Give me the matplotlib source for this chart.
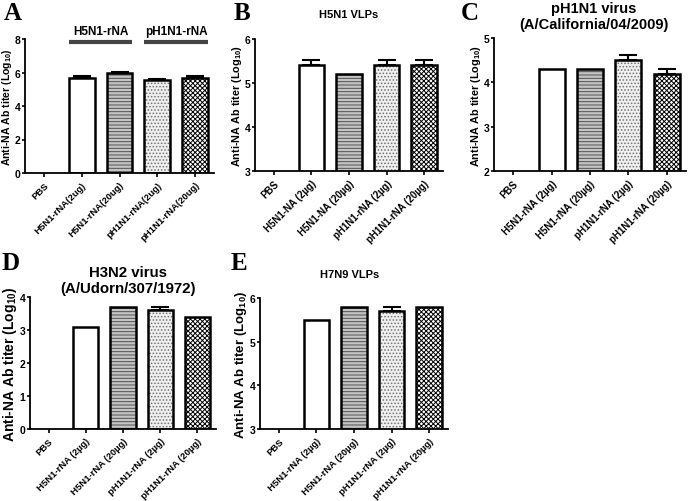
import matplotlib
matplotlib.use("Agg")
import matplotlib.pyplot as plt
import numpy as np

plt.rcParams['font.family'] = ['Liberation Sans', 'DejaVu Sans']
plt.rcParams['font.weight'] = 'bold'
plt.rcParams['mathtext.fontset'] = 'custom'
plt.rcParams['mathtext.rm'] = 'Liberation Sans:bold'
plt.rcParams['mathtext.bf'] = 'Liberation Sans:bold'
plt.rcParams['mathtext.default'] = 'bf'
plt.rcParams['hatch.linewidth'] = 0.7

# ---------------- data ----------------
labels_A = ["PBS", "H5N1-rNA(2ug)", "H5N1-rNA(20ug)", "pH1N1-rNA(2ug)", "pH1N1-rNA(20ug)"]
labels_B = ["PBS", "H5N1-NA (2µg)", "H5N1-NA (20µg)", "pH1N1-rNA (2µg)", "pH1N1-rNA (20µg)"]
labels_CDE = ["PBS", "H5N1-rNA (2µg)", "H5N1-rNA (20µg)", "pH1N1-rNA (2µg)", "pH1N1-rNA (20µg)"]

values_A = [0, 5.7, 5.95, 5.55, 5.7]
errors_A = [0, 0.08, 0.08, 0.08, 0.08]
values_B = [0, 5.4, 5.2, 5.4, 5.4]
errors_B = [0, 0.12, 0.0, 0.12, 0.12]
values_C = [0, 4.3, 4.3, 4.5, 4.18]
errors_C = [0, 0.0, 0.0, 0.12, 0.12]
values_D = [0, 3.1, 3.7, 3.6, 3.4]
errors_D = [0, 0.0, 0.0, 0.1, 0.0]
values_E = [0, 5.5, 5.8, 5.7, 5.8]
errors_E = [0, 0.0, 0.0, 0.1, 0.0]

titles = {"B": "H5N1 VLPs", "C": "pH1N1 virus\n(A/California/04/2009)",
          "D": "H3N2 virus\n(A/Udorn/307/1972)", "E": "H7N9 VLPs"}
group_labels_A = ["H5N1-rNA", "pH1N1-rNA"]

# ---------------- styling ----------------
W, H = 696, 502
fig = plt.figure(figsize=(W / 100, H / 100), dpi=100)

face = ['white', 'white', '#c4c4c4', '#f0f0f0', '#ffffff']
hatches = [None, None, '-----', '.....', 'xxxxxxx']
hcol = ['black', 'black', '#505050', '#707070', 'black']


def make_ax(l, r, t, b):
    return fig.add_axes([l / W, 1 - b / H, (r - l) / W, (b - t) / H])


def panel(ax, vals, errs, labels, ylim, yticks, ylab_size, xt_size=6.8):
    x = np.arange(len(vals))
    bw = 0.68
    for i in range(len(vals)):
        if vals[i] <= 0:
            continue
        ax.bar(x[i], vals[i], bw, color=face[i], hatch=hatches[i],
               edgecolor=hcol[i], linewidth=0, zorder=2)
        ax.bar(x[i], vals[i], bw, fill=False, edgecolor='black',
               linewidth=1.8, zorder=3)
        if errs[i] > 0:
            ax.errorbar(x[i], vals[i], yerr=[[0], [errs[i]]], fmt='none',
                        ecolor='black', elinewidth=1.5, capsize=6.5,
                        capthick=1.5, zorder=4)
    ax.set_xlim(-0.5, 4.5)
    ax.set_ylim(*ylim)
    ax.set_yticks(yticks)
    ax.set_xticks(x)
    ax.set_xticklabels(labels, rotation=45, ha='right', rotation_mode='anchor',
                       fontsize=xt_size, fontweight='bold')
    for lab in ax.get_yticklabels():
        lab.set_fontsize(7.5)
        lab.set_fontweight('bold')
    ax.spines['top'].set_visible(False)
    ax.spines['right'].set_visible(False)
    ax.spines['left'].set_linewidth(1.3)
    ax.spines['bottom'].set_linewidth(1.3)
    ax.tick_params(axis='x', direction='out', length=3, width=1.2, pad=2)
    ax.tick_params(axis='y', direction='out', length=2.5, width=1.2, pad=1)
    ax.set_ylabel("Anti-NA Ab titer (Log$_{10}$)", fontsize=ylab_size,
                  fontweight='bold', labelpad=0.5)


def letter(x, y, s):
    fig.text(x / W, 1 - y / H, s, fontsize=18, fontweight='bold',
             family='Liberation Serif', ha='left', va='center')


def title(x, y, s, size):
    fig.text(x / W, 1 - y / H, s, fontsize=size, fontweight='bold',
             ha='center', va='center', linespacing=1.2)


# Panel A
axA = make_ax(25, 214, 40, 174)
panel(axA, values_A, errors_A, labels_A, (0, 8), [0, 2, 4, 6, 8], 7.6)
letter(4, 13, "A")
for k, (i0, i1) in enumerate([(1, 2), (3, 4)]):
    axA.plot([i0 - 0.34, i1 + 0.34], [7.8, 7.8], color='#444444', lw=3,
             clip_on=False, solid_capstyle='butt')
    axA.text((i0 + i1) / 2, 8.1, group_labels_A[k], ha='center', va='bottom',
             fontsize=8.5, fontweight='bold')

# Panel B
axB = make_ax(255, 443, 40, 172)
panel(axB, values_B, errors_B, labels_B, (3, 6), [3, 4, 5, 6], 7.8, 7)
letter(234, 13, "B")
title(349, 15, titles["B"], 8)

# Panel C
axC = make_ax(494, 686, 39, 172)
panel(axC, values_C, errors_C, labels_CDE, (2, 5), [2, 3, 4, 5], 7.8, 7)
letter(461, 13, "C")
title(594, 17, titles["C"], 10.5)

# Panel D
axD = make_ax(30, 216, 298, 430)
panel(axD, values_D, errors_D, labels_CDE, (0, 4), [0, 1, 2, 3, 4], 10)
letter(2, 264, "D")
title(128, 281, titles["D"], 10.8)

# Panel E
axE = make_ax(260, 448, 299, 430)
panel(axE, values_E, errors_E, labels_CDE, (3, 6), [3, 4, 5, 6], 9.5)
letter(231, 264, "E")
title(350, 275, titles["E"], 8)

fig.savefig("out.png", dpi=100)
